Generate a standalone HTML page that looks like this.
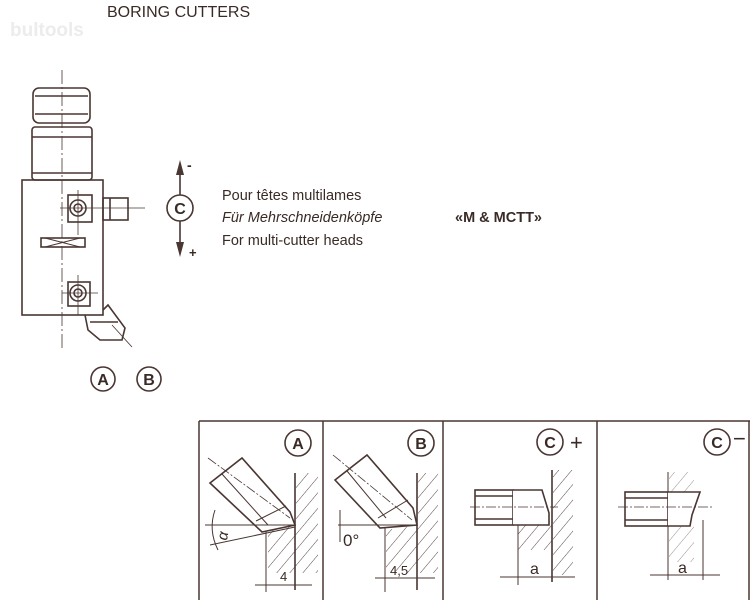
<!DOCTYPE html>
<html><head><meta charset="utf-8"><style>
html,body{margin:0;padding:0;background:#fff;}
svg{display:block;}
text{font-family:"Liberation Sans",sans-serif;fill:#3a2a26;}
</style></head><body>
<svg width="750" height="600" viewBox="0 0 750 600" xmlns="http://www.w3.org/2000/svg">
<defs>
<pattern id="h" width="10" height="10" patternUnits="userSpaceOnUse" patternTransform="rotate(40)">
<line x1="0" y1="0" x2="0" y2="10" stroke="#5a4440" stroke-width="1"/>
</pattern>
</defs>
<rect width="750" height="600" fill="#fff"/>
<text x="107" y="17" font-size="16">BORING CUTTERS</text>
<text x="10" y="36" font-size="19" font-weight="bold" style="fill:#ececec">bultools</text>

<g stroke="#4a3632" stroke-width="1.6" fill="none">
<line x1="62" y1="70" x2="62" y2="350" stroke-width="0.8" stroke-dasharray="14,3,2,3"/>
<rect x="33" y="88" width="57" height="35" rx="6"/>
<line x1="35" y1="96" x2="88" y2="96"/>
<line x1="35" y1="114" x2="88" y2="114"/>
<rect x="32" y="127" width="60" height="53" rx="3"/>
<line x1="32" y1="137" x2="92" y2="137"/>
<line x1="32" y1="173" x2="92" y2="173"/>
<rect x="22" y="180" width="81" height="135"/>
<rect x="68" y="195" width="24" height="27"/>
<circle cx="78" cy="208" r="8"/><circle cx="78" cy="208" r="4"/>
<line x1="60" y1="208" x2="145" y2="208" stroke-width="0.8"/>
<line x1="78" y1="190" x2="78" y2="235" stroke-width="0.8"/>
<rect x="103" y="198" width="25" height="22"/>
<line x1="110" y1="198" x2="110" y2="220"/>
<rect x="41" y="238" width="44" height="9"/>
<line x1="45" y1="238" x2="80" y2="247" stroke-width="1"/><line x1="45" y1="247" x2="80" y2="238" stroke-width="1"/>
<rect x="68" y="282" width="22" height="24"/>
<circle cx="78" cy="293" r="8"/><circle cx="78" cy="293" r="4"/>
<line x1="62" y1="293" x2="98" y2="293" stroke-width="0.8"/>
<line x1="78" y1="275" x2="78" y2="315" stroke-width="0.8"/>
<path d="M85 315 L88 330 L100 340 L122 340 L125 328 L108 305 L103 310"/>
<line x1="90" y1="322" x2="118" y2="322"/>
<line x1="112" y1="325" x2="132" y2="347" stroke-width="0.8"/>
<circle cx="103" cy="379" r="12"/>
<circle cx="149" cy="379" r="12"/>
<circle cx="180" cy="208" r="13"/>
<line x1="180" y1="170" x2="180" y2="195"/>
<line x1="180" y1="221" x2="180" y2="245"/>
</g>
<path d="M176 175 L180 160 L184 175Z M176 242 L180 257 L184 242Z" fill="#4a3632"/>
<text x="103" y="385" font-size="16" font-weight="bold" text-anchor="middle">A</text>
<text x="149" y="385" font-size="16" font-weight="bold" text-anchor="middle">B</text>
<text x="180" y="214" font-size="16" font-weight="bold" text-anchor="middle">C</text>
<text x="187" y="170" font-size="14" font-weight="bold">-</text>
<text x="189" y="257" font-size="13" font-weight="bold">+</text>
<text x="222" y="200" font-size="14.5">Pour têtes multilames</text>
<text x="222" y="222" font-size="14.5" font-style="italic">Für Mehrschneidenköpfe</text>
<text x="222" y="245" font-size="14.5">For multi-cutter heads</text>
<text x="455" y="222" font-size="14.5" font-weight="bold">«M &amp; MCTT»</text>

<g stroke="#4a3632" stroke-width="1.5" fill="none">
<line x1="199" y1="421" x2="750" y2="421"/>
<line x1="199" y1="421" x2="199" y2="600"/>
<line x1="323" y1="421" x2="323" y2="600"/>
<line x1="443" y1="421" x2="443" y2="600"/>
<line x1="597" y1="421" x2="597" y2="600"/>
<line x1="749" y1="421" x2="749" y2="600"/>
</g>
<!-- panel A -->
<rect x="296" y="473" width="22" height="100" fill="url(#h)"/>
<polygon points="268,530 296,525 296,573 268,573" fill="url(#h)"/>
<g stroke="#4a3632" stroke-width="1.6" fill="none">
<line x1="295" y1="473" x2="295" y2="590"/>
<polygon points="210,483 242,458 290,512 295,525 262,532" fill="#fff"/>
<line x1="222" y1="474" x2="268" y2="525" stroke-width="1"/>
<line x1="256" y1="521" x2="286" y2="506" stroke-width="1"/>
<line x1="208" y1="458" x2="290" y2="518" stroke-width="0.8" stroke-dasharray="10,2,2,2"/>
<line x1="205" y1="525" x2="295" y2="525" stroke-width="1"/>
<line x1="210" y1="545" x2="295" y2="527" stroke-width="1"/>
<line x1="266" y1="532" x2="266" y2="592" stroke-width="1"/>
<line x1="255" y1="585" x2="312" y2="585" stroke-width="1"/>
<path d="M215 510 Q208 530 218 550" stroke-width="1"/>
<circle cx="298" cy="443" r="13"/>
<circle cx="421" cy="443" r="13"/>
<circle cx="550" cy="442" r="13"/>
<circle cx="717" cy="442" r="13"/>
</g>
<text x="222" y="545" font-size="15" font-style="italic" transform="rotate(-80 222 540)">α</text>
<text x="280" y="581" font-size="13">4</text>
<text x="298" y="449" font-size="16" font-weight="bold" text-anchor="middle">A</text>
<!-- panel B -->
<rect x="418" y="473" width="20" height="100" fill="url(#h)"/>
<polygon points="386,530 418,525 418,573 386,573" fill="url(#h)"/>
<g stroke="#4a3632" stroke-width="1.6" fill="none">
<line x1="417" y1="473" x2="417" y2="590"/>
<polygon points="335,480 367,455 413,508 417,525 380,528" fill="#fff"/>
<line x1="347" y1="471" x2="386" y2="518" stroke-width="1"/>
<line x1="378" y1="518" x2="408" y2="500" stroke-width="1"/>
<line x1="333" y1="455" x2="412" y2="520" stroke-width="0.8" stroke-dasharray="10,2,2,2"/>
<line x1="338" y1="525" x2="417" y2="525" stroke-width="1"/>
<line x1="385" y1="528" x2="385" y2="592" stroke-width="1"/>
<line x1="375" y1="578" x2="435" y2="578" stroke-width="1"/>
<line x1="340" y1="510" x2="340" y2="542" stroke-width="1"/>
</g>
<text x="343" y="546" font-size="17">0°</text>
<text x="390" y="575" font-size="13">4,5</text>
<text x="421" y="449" font-size="16" font-weight="bold" text-anchor="middle">B</text>
<!-- panel C+ -->
<rect x="553" y="470" width="20" height="105" fill="url(#h)"/>
<polygon points="518,525 552,525 552,550 518,550" fill="url(#h)"/>
<g stroke="#4a3632" stroke-width="1.6" fill="none">
<line x1="552" y1="470" x2="552" y2="582"/>
<rect x="475" y="490" width="38" height="35" fill="#fff"/>
<line x1="475" y1="496" x2="513" y2="496"/><line x1="475" y1="519" x2="513" y2="519"/>
<path d="M513 490 L542 490 L549 513 L549 525 L513 525" fill="#fff"/>
<line x1="470" y1="507" x2="558" y2="507" stroke-width="0.8" stroke-dasharray="10,2,2,2"/>
<line x1="518" y1="525" x2="518" y2="585" stroke-width="1"/>
<line x1="500" y1="577" x2="575" y2="577" stroke-width="1"/>
</g>
<text x="530" y="574" font-size="16">a</text>
<text x="550" y="448" font-size="16" font-weight="bold" text-anchor="middle">C</text>
<text x="570" y="450" font-size="22">+</text>
<!-- panel C- -->
<rect x="669" y="472" width="25" height="90" fill="url(#h)" opacity="0.6"/>
<g stroke="#4a3632" stroke-width="1.6" fill="none">
<line x1="668" y1="472" x2="668" y2="580" stroke-width="1"/>
<rect x="625" y="492" width="43" height="34" fill="#fff"/>
<line x1="625" y1="498" x2="668" y2="498"/><line x1="625" y1="520" x2="668" y2="520"/>
<path d="M668 492 L700 492 L692 515 L690 526 L668 526" fill="#fff"/>
<line x1="618" y1="507" x2="712" y2="507" stroke-width="0.8" stroke-dasharray="10,2,2,2"/>
<line x1="703" y1="520" x2="703" y2="580" stroke-width="1"/>
<line x1="650" y1="575" x2="720" y2="575" stroke-width="1"/>
</g>
<text x="678" y="573" font-size="16">a</text>
<text x="717" y="448" font-size="16" font-weight="bold" text-anchor="middle">C</text>
<text x="733" y="446" font-size="22">−</text>
</svg>
</body></html>
